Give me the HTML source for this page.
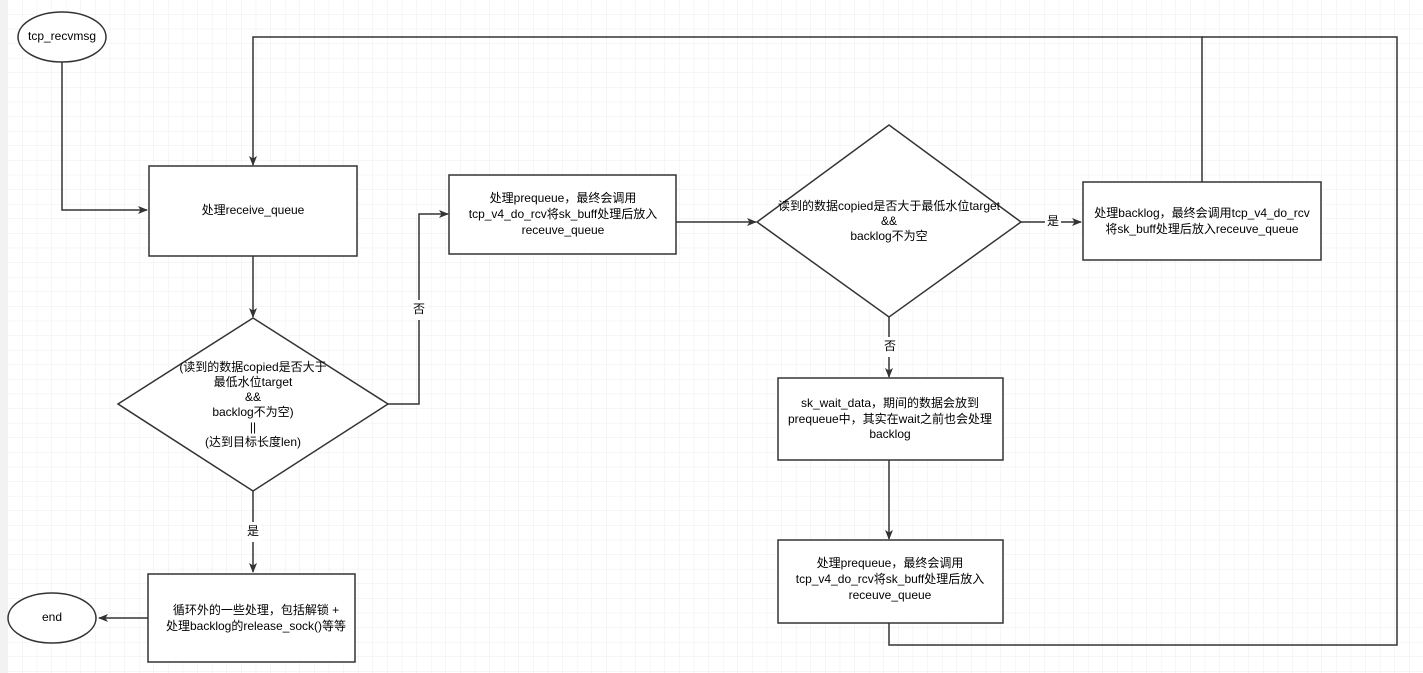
<!DOCTYPE html>
<html><head><meta charset="utf-8"><style>
html,body{margin:0;padding:0;background:#fff}
svg{display:block}
text{font-family:"Liberation Sans","Noto Sans CJK SC",sans-serif;font-size:12px;fill:#000;text-anchor:middle;dominant-baseline:middle}
</style></head><body>
<svg width="1423" height="673" viewBox="0 0 1423 673" xmlns="http://www.w3.org/2000/svg">
<defs>
<pattern id="g" width="14.6" height="14.6" patternUnits="userSpaceOnUse" x="8" y="0">
<path d="M14.6 0V14.6M0 14.6H14.6" stroke="#ececec" stroke-width="1" fill="none"/>
</pattern>
<marker id="a" markerWidth="10" markerHeight="10" refX="9" refY="5" orient="auto" markerUnits="userSpaceOnUse">
<path d="M0 1L10 5L0 9L2.5 5Z" fill="#333"/>
</marker>
</defs>
<rect width="1423" height="673" fill="#fff"/>
<rect x="8" width="1415" height="673" fill="url(#g)"/>
<rect width="8" height="673" fill="#f2f2f2"/>
<g stroke="#333" stroke-width="1.5" fill="none">
<path d="M62 62V210H147" marker-end="url(#a)"/>
<path d="M1202 182V37H253V165" marker-end="url(#a)"/>
<path d="M1202 37H1397V645H889V623"/>
<path d="M253 256V317" marker-end="url(#a)"/>
<path d="M388 404H419V214H448" marker-end="url(#a)"/>
<path d="M253 491V572" marker-end="url(#a)"/>
<path d="M148 618H99" marker-end="url(#a)"/>
<path d="M676 222H756" marker-end="url(#a)"/>
<path d="M1021 222H1081" marker-end="url(#a)"/>
<path d="M889 317V377" marker-end="url(#a)"/>
<path d="M889 460V539" marker-end="url(#a)"/>
</g>
<g stroke="#333" stroke-width="1.5" fill="#fff">
<ellipse cx="62" cy="37" rx="44" ry="25"/>
<ellipse cx="52" cy="618" rx="44" ry="25"/>
<rect x="149" y="166" width="208" height="90"/>
<polygon points="253,318 388,404 253,491 118,404"/>
<rect x="148" y="574" width="207" height="88"/>
<rect x="449" y="175" width="227" height="79"/>
<polygon points="889,125 1021,222 889,317 757,222"/>
<rect x="1083" y="182" width="238" height="78"/>
<rect x="778" y="378" width="225" height="82"/>
<rect x="778" y="540" width="225" height="83"/>
</g>
<rect x="411" y="300" width="16" height="20" fill="#fff"/>
<rect x="245" y="522" width="16" height="20" fill="#fff"/>
<rect x="1045" y="213" width="16" height="18" fill="#fff"/>
<rect x="882" y="337" width="16" height="20" fill="#fff"/>
<text x="62" y="37">tcp_recvmsg</text>
<text x="52" y="618">end</text>
<text x="253" y="211">处理receive_queue</text>
<text x="253" y="368">(读到的数据copied是否大于</text>
<text x="253" y="383">最低水位target</text>
<text x="253" y="398">&amp;&amp;</text>
<text x="253" y="413">backlog不为空)</text>
<text x="253" y="428">||</text>
<text x="253" y="443">(达到目标长度len)</text>
<text x="419" y="310">否</text>
<text x="253" y="532">是</text>
<text x="256" y="611">循环外的一些处理，包括解锁 +</text>
<text x="256" y="627">处理backlog的release_sock()等等</text>
<text x="563" y="199">处理prequeue，最终会调用</text>
<text x="563" y="215">tcp_v4_do_rcv将sk_buff处理后放入</text>
<text x="563" y="231">receuve_queue</text>
<text x="889" y="207">读到的数据copied是否大于最低水位target</text>
<text x="889" y="222">&amp;&amp;</text>
<text x="889" y="237">backlog不为空</text>
<text x="1053" y="222">是</text>
<text x="1202" y="214">处理backlog，最终会调用tcp_v4_do_rcv</text>
<text x="1202" y="230">将sk_buff处理后放入receuve_queue</text>
<text x="890" y="347">否</text>
<text x="890" y="404">sk_wait_data，期间的数据会放到</text>
<text x="890" y="420">prequeue中，其实在wait之前也会处理</text>
<text x="890" y="435">backlog</text>
<text x="890" y="564">处理prequeue，最终会调用</text>
<text x="890" y="580">tcp_v4_do_rcv将sk_buff处理后放入</text>
<text x="890" y="596">receuve_queue</text>
</svg>
</body></html>
